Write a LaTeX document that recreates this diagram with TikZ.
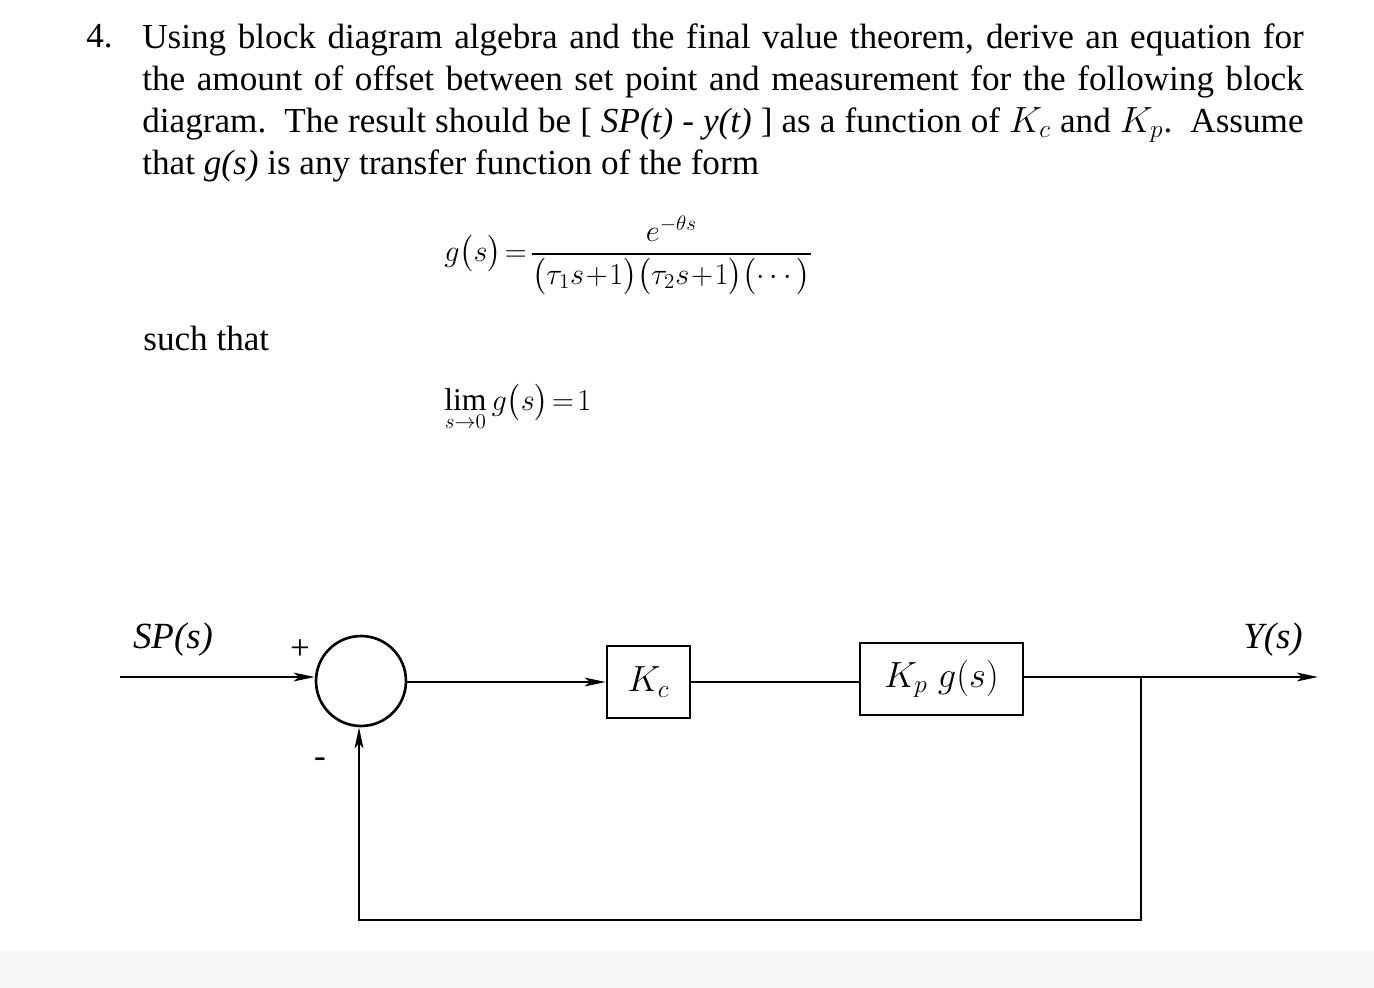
\documentclass[tikz,border=0pt]{standalone}
\usepackage{amsmath}
\usepackage{fontspec}
\setmainfont{Liberation Serif}
\usetikzlibrary{arrows.meta}
\begin{document}
\begin{tikzpicture}[x=0.02cm,y=-0.02cm,
  wire/.style={line width=1.2pt},
  arr/.style={wire,-{Stealth[length=12pt,width=5pt,inset=3pt]}},
  blk/.style={draw,line width=1.5pt,inner sep=0pt},
  lbl/.style={font=\fontsize{20}{24}\selectfont}]
\useasboundingbox (0,0) rectangle (1374,988);
\fill[black!3] (0,950) rectangle (1374,988);
\node[lbl,anchor=base west,inner sep=0pt] (num) at (86,47) {4.};
\node[lbl,anchor=north west,inner sep=0pt,text width=661pt,align=justify] (ptext) at (142,23)
 {\fontsize{20}{24.6}\selectfont Using block diagram algebra and the final value theorem, derive an equation for\linebreak
 the amount of offset between set point and measurement for the following block\linebreak
 diagram.\ \ The result should be [ \textit{SP(t)} - \textit{y(t)} ] as a function of $K_c$ and $K_p$.\ \ Assume\linebreak
 that \textit{g(s)} is any transfer function of the form};
\node[lbl,anchor=west,inner sep=0pt] (eq) at (444,255) {\fontsize{18}{22}\selectfont $g\bigl(s\bigr)\!=\!\dfrac{e^{-\theta s}}{\bigl(\tau_1 s\!+\!1\bigr)\bigl(\tau_2 s\!+\!1\bigr)\bigl(\cdots\bigr)}$};
\node[lbl,anchor=base west,inner sep=0pt] (such) at (143,350) {such that};
\node[lbl,anchor=west,inner sep=0pt] (lim) at (444,408) {\fontsize{18}{22}\selectfont $\lim\limits_{s\to 0} g\bigl(s\bigr)\!=\!1$};
% diagram
\node[draw,circle,line width=1.5pt,inner sep=0pt,minimum size=1.8cm] (sum) at (361,681) {};
\node[blk,minimum width=1.66cm,minimum height=1.44cm,lbl] (kc) at (648.5,682) {\fontsize{21}{24}\selectfont$K_c$};
\node[blk,minimum width=3.26cm,minimum height=1.44cm,lbl] (kp) at (941.5,679) {\fontsize{21}{24}\selectfont$K_p\;g(s)$};
\coordinate (in) at (120,677);
\coordinate (out) at (1318,677);
\coordinate (br) at (1141,677);
\coordinate (c1) at (1141,920);
\coordinate (c2) at (359,920);
\draw[arr] (in) -- (sum.west |- in);
\draw[arr] (sum.east |- kc.west) -- (kc.west);
\draw[wire] (kc.east) -- (kc.east -| kp.west);
\draw[arr] (kp.east |- out) -- (out);
\draw[arr] (br) -- (c1) -- (c2) -- (sum.south -| c2);
\node[lbl,anchor=base] (sp) at (173,648) {\fontsize{21}{24}\selectfont\textit{SP(s)}};
\node[lbl,anchor=base] (ys) at (1273,648) {\fontsize{21}{24}\selectfont\textit{Y(s)}};
\node[lbl] (plus) at (300,650) {+};
\node[lbl] (minus) at (320,763) {-};
\end{tikzpicture}
\end{document}
